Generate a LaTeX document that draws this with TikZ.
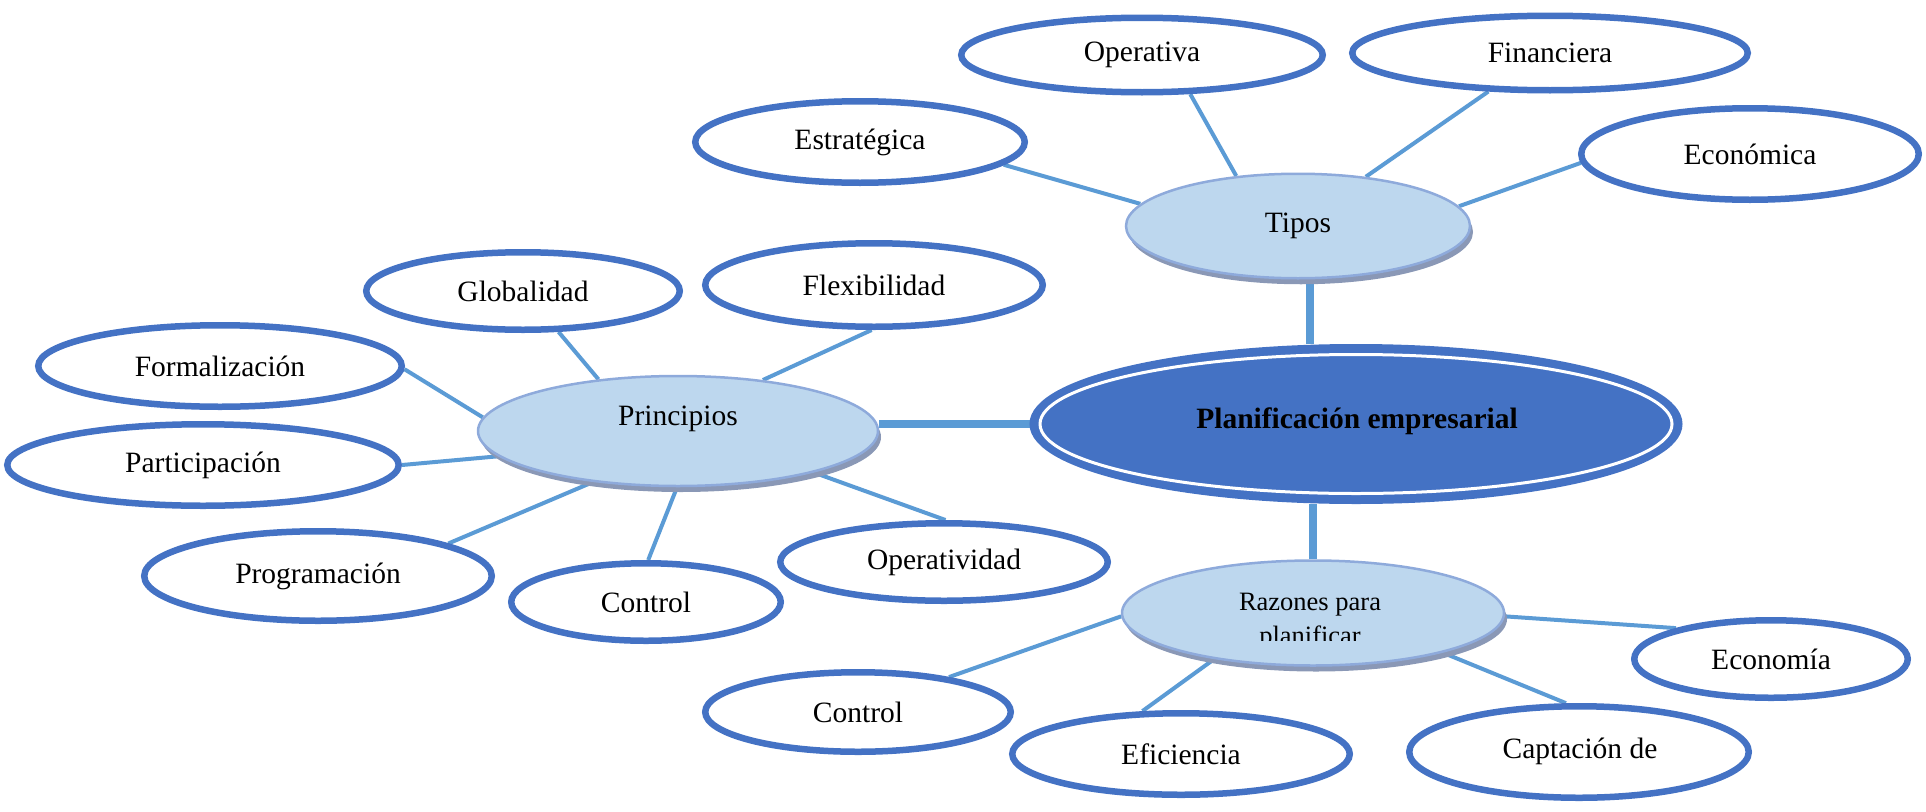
\documentclass[tikz,border=0pt]{standalone}
\usepackage{fontspec}
\setmainfont{Liberation Serif}
\usetikzlibrary{shapes.geometric,shadows,backgrounds}
\definecolor{satblue}{HTML}{4472C4}
\definecolor{linkblue}{HTML}{5B9BD5}
\definecolor{hubfill}{HTML}{BDD7EE}
\definecolor{hubdraw}{HTML}{8EAADB}
\definecolor{shadowcol}{RGB}{138,152,182}
\newcommand{\fsmain}{\fontsize{29.5}{34}\selectfont}
\newcommand{\fsraz}{\fontsize{26.5}{34}\selectfont}
\begin{document}
\begin{tikzpicture}[x=1pt,y=-1pt,
  sat/.style={ellipse, draw=satblue, line width=6.5pt, fill=white, inner sep=0pt, font=\fsmain},
  hub/.style={ellipse, draw=hubdraw, line width=2.5pt, fill=hubfill, inner sep=0pt,
    drop shadow={shadow xshift=3pt,shadow yshift=-6pt,fill=shadowcol,opacity=1}},
  link/.style={draw=linkblue, line width=4pt},
  trunk/.style={draw=linkblue, line width=8pt},
  lbl/.style={anchor=base, inner sep=0pt, font=\fsmain}
]
\useasboundingbox (0,0) rectangle (1926,811);

% central node
\node[ellipse, draw=satblue, fill=satblue, line width=8pt, minimum width=645pt, minimum height=152pt, inner sep=0pt] (plan) at (1356,424) {};
\draw[white, line width=3pt] (plan.center) ellipse [x radius=316pt, y radius=69.5pt];
\node[lbl, font=\fsmain\bfseries] (planT) at (1357,428) {Planificación empresarial};

% hubs
\node[hub, minimum width=344pt, minimum height=104.5pt, font=\fsmain] (tipos) at (1298,226) {Tipos};
\node[hub, minimum width=400pt, minimum height=110pt] (princ) at (678,431) {};
\node[lbl] (princT) at (678,425) {Principios};
\node[hub, minimum width=382pt, minimum height=105pt] (raz) at (1313,613) {};
\node[lbl, font=\fsraz] (razT1) at (1310,610) {Razones para};
\begin{scope}
  \clip (1100,560) rectangle (1530,640);
  \node[lbl, font=\fsraz] (razT2) at (1310,644) {planificar};
\end{scope}

% satellites of Tipos
\node[sat, minimum width=361.5pt, minimum height=74.5pt] (oper) at (1142,55) {Operativa};
\node[sat, minimum width=395.5pt, minimum height=74.5pt] (fin) at (1550,53) {Financiera};
\node[sat, minimum width=329.5pt, minimum height=81.5pt] (estr) at (860,142) {Estratégica};
\node[sat, minimum width=337.5pt, minimum height=91.5pt] (econ) at (1750,154) {Económica};

% satellites of Principios
\node[sat, minimum width=313.5pt, minimum height=77.5pt] (glob) at (523,291) {Globalidad};
\node[sat, minimum width=337.5pt, minimum height=83.5pt] (flex) at (874,285) {Flexibilidad};
\node[sat, minimum width=363.5pt, minimum height=81.5pt] (form) at (220,366) {Formalización};
\node[sat, minimum width=391.5pt, minimum height=81.5pt] (part) at (203,465) {Participación};
\node[sat, minimum width=347.5pt, minimum height=89.5pt] (prog) at (318,576) {Programación};
\node[sat, minimum width=269.5pt, minimum height=77.5pt] (ctrlA) at (646,602) {Control};
\node[sat, minimum width=327.5pt, minimum height=77.5pt] (operat) at (944,562) {Operatividad};

% satellites of Razones
\node[sat, minimum width=305.5pt, minimum height=79.5pt] (ctrlB) at (858,712) {Control};
\node[sat, minimum width=337.5pt, minimum height=81.5pt] (efic) at (1181,754) {Eficiencia};
\node[sat, minimum width=339.5pt, minimum height=91.5pt] (capt) at (1579,752) {};
\node[lbl] (captT) at (1580,758) {Captación de};
\node[sat, minimum width=273.5pt, minimum height=77.5pt] (econo) at (1771,659) {Economía};

\begin{scope}[on background layer]
  \draw[trunk] ([xshift=12pt]tipos.south) -- ([xshift=12pt]tipos.south |- plan.north);
  \draw[trunk] (princ.east |- plan.west) -- (plan.west);
  \draw[trunk] (raz.north) -- (raz.north |- plan.south);

  \draw[link] (estr.-9) -- (tipos.172);
  \draw[link] (oper.-39) -- (tipos.141);
  \draw[link] (fin.212) -- (tipos.36);
  \draw[link] (econ.183) -- (tipos.7);

  \draw[link] (glob.-49) -- (princ.147);
  \draw[link] (flex.-93) -- (princ.31);
  \draw[link] (form.-1) -- (princ.176);
  \draw[link] (part.0) -- (princ.188);
  \draw[link] (prog.14) -- (princ.211);
  \draw[link] (ctrlA.87) -- (princ.269);
  \draw[link] (operat.88) -- (princ.-17);

  \draw[link] (ctrlB.21) -- (raz.181);
  \draw[link] (efic.132) -- (raz.205);
  \draw[link] (capt.105) -- (raz.-17);
  \draw[link] (econo.162) -- (raz.-1.5);
\end{scope}
\end{tikzpicture}
\end{document}
